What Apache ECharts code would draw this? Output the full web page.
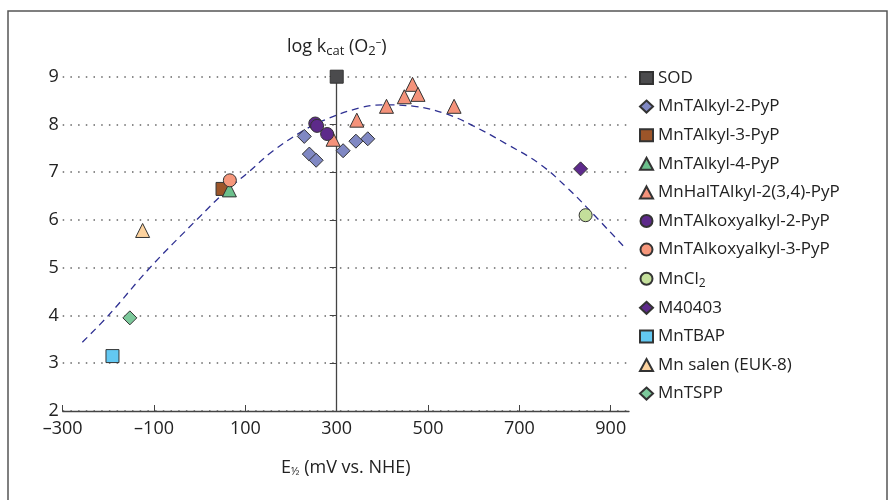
<!DOCTYPE html>
<html><head><meta charset="utf-8">
<script src="https://cdn.jsdelivr.net/npm/echarts@6/dist/echarts.min.js"></script>
<style>html,body{margin:0;padding:0;background:#fff}#c{width:895px;height:500px}</style>
</head><body><div id="c"></div>
<script>
// ---- data ----
const xTicks = [-300, -100, 100, 300, 500, 700, 900];
const seriesNames = ['SOD', 'MnTAlkyl-2-PyP', 'MnTAlkyl-3-PyP', 'MnTAlkyl-4-PyP', 'MnHalTAlkyl-2(3,4)-PyP',
  'MnTAlkoxyalkyl-2-PyP', 'MnTAlkoxyalkyl-3-PyP', 'MnCl2', 'M40403', 'MnTBAP', 'Mn salen (EUK-8)', 'MnTSPP'];
const sod = [[300, 9.0]];
const alkyl2 = [[229, 7.75], [240, 7.38], [255, 7.25], [314, 7.45], [342, 7.65], [368, 7.7]];
const alkyl3 = [[50, 6.65]];
const alkyl4 = [[65, 6.63]];
const halAlkyl = [[292, 7.69], [344, 8.09], [409, 8.38], [448, 8.58], [466, 8.84], [478, 8.63], [557, 8.38]];
const alkoxy2 = [[253, 8.02], [257, 7.97], [279, 7.8]];
const alkoxy3 = [[66, 6.83]];
const mncl2 = [[845, 6.1]];
const m40403 = [[834, 7.07]];
const mntbap = [[-191, 3.15]];
const salen = [[-125, 5.78]];
const mntspp = [[-153, 3.95]];
const fitX = [-257, -200, -109, -7, 59, 103, 161, 227, 270, 351, 400, 470, 540, 599, 672, 745, 803, 847, 927];
const fitY = [3.44, 4.0, 5.0, 6.0, 6.62, 6.97, 7.45, 7.87, 8.08, 8.35, 8.41, 8.38, 8.22, 7.97, 7.59, 7.17, 6.69, 6.27, 5.46];

// ---- styling ----
const FF = '"Open Sans", "Noto Sans", sans-serif';
const TXT = '#222';
const specs = [
  {data: sod, symbol: 'rect', size: 13, color: '#4b4b4d'},
  {data: alkyl2, symbol: 'diamond', size: 14, color: '#8088c3'},
  {data: alkyl3, symbol: 'rect', size: 13, color: '#9c5529'},
  {data: alkyl4, symbol: 'triangle', size: 14, color: '#6cc08c'},
  {data: halAlkyl, symbol: 'triangle', size: 14, color: '#f4927a'},
  {data: alkoxy2, symbol: 'circle', size: 13, color: '#5d2a8a'},
  {data: alkoxy3, symbol: 'circle', size: 13, color: '#f6977b'},
  {data: mncl2, symbol: 'circle', size: 13, color: '#c4df9b'},
  {data: m40403, symbol: 'diamond', size: 14, color: '#5e2a8c'},
  {data: mntbap, symbol: 'rect', size: 13, color: '#63c8f2'},
  {data: salen, symbol: 'triangle', size: 14, color: '#fdd39f'},
  {data: mntspp, symbol: 'diamond', size: 14, color: '#7cc99b'}
];

const series = [{
  type: 'line', name: 'fit', data: fitX.map((x, i) => [x, fitY[i]]),
  smooth: 0.4, symbol: 'none', silent: true, z: 1,
  lineStyle: {color: '#2e3092', width: 1.3, type: [7, 5]}
}].concat(specs.map((s, i) => ({
  type: 'scatter', name: seriesNames[i], data: s.data, symbol: s.symbol, symbolSize: s.size, z: 3 + i,
  itemStyle: {color: s.color, borderColor: '#333', borderWidth: 1, opacity: 1}
})));

const chart = echarts.init(document.getElementById('c'), null, {renderer: 'canvas'});
chart.setOption({
  animation: false,
  backgroundColor: '#fff',
  textStyle: {fontFamily: FF},
  grid: {left: 62.7, right: 266, top: 76.7, bottom: 89, containLabel: false},
  graphic: [{type: 'rect', silent: true, z: -1,
    shape: {x: 8, y: 11, width: 879, height: 520},
    style: {fill: 'none', stroke: '#555', lineWidth: 1.5}}],
  legend: {
    orient: 'vertical', left: 639, top: 68, padding: 0, itemWidth: 13, itemHeight: 12, itemGap: 8.6,
    data: seriesNames,
    formatter: n => n === 'MnCl2' ? 'MnCl{sub|2}' : n,
    textStyle: {fontFamily: FF, fontSize: 17, color: TXT, lineHeight: 20,
      rich: {sub: {fontFamily: FF, fontSize: 12, color: TXT, lineHeight: 20, padding: [9, 0, 0, 0]}}}
  },
  xAxis: [{
    type: 'value', min: -300, max: 940,
    axisLine: {onZero: false, lineStyle: {color: '#444', width: 1.3}},
    axisTick: {show: true, inside: true, length: 6, customValues: xTicks, lineStyle: {color: '#444'}},
    axisLabel: {customValues: xTicks, fontFamily: FF, fontSize: 18, color: TXT, margin: 9,
      formatter: v => v < 0 ? '\u2013' + Math.abs(v) : String(v)},
    splitLine: {show: false},
    name: 'E{sub|\u00bd} (mV vs. NHE)', nameLocation: 'middle', nameGap: 47,
    nameTextStyle: {fontFamily: FF, fontSize: 18, color: TXT,
      rich: {sub: {fontFamily: FF, fontSize: 11, color: TXT, padding: [8, 0, 0, 0]}}}
  }, {
    type: 'value', min: -600, max: 640, show: false
  }],
  yAxis: {
    type: 'value', min: 2, max: 9, interval: 1,
    axisLine: {show: true, onZero: true, onZeroAxisIndex: 1, lineStyle: {color: '#444', width: 1.3}},
    axisTick: {show: true, length: 7, lineStyle: {color: '#444'}},
    axisLabel: {fontFamily: FF, fontSize: 18, color: TXT, margin: 4},
    splitLine: {show: true, lineStyle: {type: [1.5, 6.2], color: '#666', width: 1.5}},
    name: 'log k{sub|cat} (O{sub|2}{sup|\u2013})', nameLocation: 'end', nameGap: 19,
    nameTextStyle: {fontFamily: FF, fontSize: 18, color: TXT, align: 'center',
      rich: {sub: {fontFamily: FF, fontSize: 13, color: TXT, padding: [9, 0, 0, 0]},
             sup: {fontFamily: FF, fontSize: 11, color: TXT, padding: [0, 0, 9, 0]}}}
  },
  series: series
});
</script></body></html>
